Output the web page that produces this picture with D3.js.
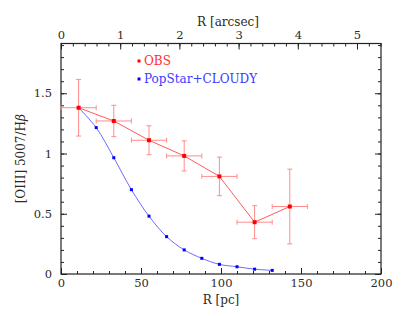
<!DOCTYPE html>
<html>
<head>
  <script src="https://d3js.org/d3.v7.min.js"></script>
  <style>
    body { margin: 0; background: #fff; }
    svg { display: block; }
    text { font-family: "DejaVu Serif", serif; font-size: 12px; fill: #2a2a2a; }
    .axis text { font-family: "DejaVu Serif", serif; font-size: 11.5px; fill: #2a2a2a; }
    .axis line { stroke: #222; stroke-width: 1; }
  </style>
</head>
<body>
  <svg width="409" height="316"></svg>
  <script>
    // observed ratio
    var obsR = [11, 33, 55, 77, 99, 121, 143];
    var obsRatio = [1.38, 1.27, 1.11, 0.98, 0.81, 0.43, 0.56];
    var obsRErr = [11, 11, 11, 11, 11, 11, 11];
    var obsRatioErr = [0.235, 0.13, 0.12, 0.125, 0.16, 0.137, 0.31];

    // model
    var modR = [11, 22, 33, 44, 55, 66, 77, 88, 99, 110, 121, 132];
    var modRatio = [1.38, 1.215, 0.965, 0.70, 0.48, 0.31, 0.20, 0.13, 0.08, 0.06, 0.04, 0.03];

    var xTicks = [0, 50, 100, 150, 200];
    var yTicks = [0, 0.5, 1, 1.5];
    var arcTicks = [0, 1, 2, 3, 4, 5];
    var pcPerArcsec = 37;

    var pLeft = 61, pRight = 381, pTop = 43.5, pBottom = 274;
    var svg = d3.select("svg");

    var x = d3.scaleLinear().domain([0, 200]).range([pLeft, pRight]);
    var y = d3.scaleLinear().domain([0, 1.913]).range([pBottom, pTop]);
    var xa = d3.scaleLinear().domain([0, 200 / pcPerArcsec]).range([pLeft, pRight]);

    function minor(scale, step) {
      var d = scale.domain(), out = [];
      for (var v = 0; v <= d[1] + 1e-9; v += step) out.push(+v.toFixed(3));
      return out;
    }

    // axes, ticks inward
    svg.append("g").attr("class", "axis").attr("transform", "translate(0," + pBottom + ")")
      .call(d3.axisBottom(x).tickValues(xTicks).tickSize(-6).tickSizeOuter(0).tickPadding(5).tickFormat(d3.format("d")));
    svg.append("g").attr("class", "axis").attr("transform", "translate(0," + pBottom + ")")
      .call(d3.axisBottom(x).tickValues(minor(x, 10)).tickSize(-3).tickSizeOuter(0).tickFormat(""));

    svg.append("g").attr("class", "axis").attr("transform", "translate(" + pLeft + ",0)")
      .call(d3.axisLeft(y).tickValues(yTicks).tickSize(-6).tickSizeOuter(0).tickPadding(9).tickFormat(function(d) { return d; }));
    svg.append("g").attr("class", "axis").attr("transform", "translate(" + pLeft + ",0)")
      .call(d3.axisLeft(y).tickValues(minor(y, 0.1)).tickSize(-3).tickSizeOuter(0).tickFormat(""));

    svg.append("g").attr("class", "axis").attr("transform", "translate(" + pRight + ",0)")
      .call(d3.axisRight(y).tickValues(yTicks).tickSize(-6).tickSizeOuter(0).tickFormat(""));
    svg.append("g").attr("class", "axis").attr("transform", "translate(" + pRight + ",0)")
      .call(d3.axisRight(y).tickValues(minor(y, 0.1)).tickSize(-3).tickSizeOuter(0).tickFormat(""));

    svg.append("g").attr("class", "axis").attr("transform", "translate(0," + pTop + ")")
      .call(d3.axisTop(xa).tickValues(arcTicks).tickSize(-6).tickSizeOuter(0).tickPadding(5).tickFormat(d3.format("d")));
    svg.append("g").attr("class", "axis").attr("transform", "translate(0," + pTop + ")")
      .call(d3.axisTop(xa).tickValues(minor(xa, 0.2)).tickSize(-3).tickSizeOuter(0).tickFormat(""));

    svg.selectAll(".axis .domain").remove();

    svg.append("rect").attr("x", pLeft).attr("y", pTop)
      .attr("width", pRight - pLeft).attr("height", pBottom - pTop)
      .attr("fill", "none").attr("stroke", "#222").attr("stroke-width", 1.2);

    // labels
    svg.append("text").attr("x", 221).attr("y", 304).attr("text-anchor", "middle").text("R [pc]");
    svg.append("text").attr("x", 228).attr("y", 26).attr("text-anchor", "middle").text("R [arcsec]");
    var yl = svg.append("text").attr("transform", "translate(25," + ((pTop + pBottom) / 2) + ") rotate(-90)")
      .attr("text-anchor", "middle");
    yl.append("tspan").text("[OIII] 5007/H");
    yl.append("tspan").style("font-style", "italic").text("\u03B2");

    // model curve
    var model = modR.map(function(r, i) { return [r, modRatio[i]]; });
    svg.append("path").datum(model)
      .attr("fill", "none").attr("stroke", "#6c6cff").attr("stroke-width", 1)
      .attr("d", d3.line().x(function(d) { return x(d[0]); }).y(function(d) { return y(d[1]); }).curve(d3.curveCatmullRom));
    svg.selectAll(".mod").data(model).enter().append("rect")
      .attr("x", function(d) { return x(d[0]) - 1.5; })
      .attr("y", function(d) { return y(d[1]) - 1.5; })
      .attr("width", 3).attr("height", 3).attr("fill", "#0000ff");

    // observations
    var obs = obsR.map(function(r, i) { return { r: r, v: obsRatio[i], er: obsRErr[i], ev: obsRatioErr[i] }; });
    var errCol = "#ff8c8c", cap = 2.5;
    var eb = svg.append("g").attr("stroke", errCol).attr("stroke-width", 1);
    obs.forEach(function(d) {
      eb.append("line").attr("x1", x(d.r - d.er)).attr("x2", x(d.r + d.er)).attr("y1", y(d.v)).attr("y2", y(d.v));
      eb.append("line").attr("x1", x(d.r - d.er)).attr("x2", x(d.r - d.er)).attr("y1", y(d.v) - cap).attr("y2", y(d.v) + cap);
      eb.append("line").attr("x1", x(d.r + d.er)).attr("x2", x(d.r + d.er)).attr("y1", y(d.v) - cap).attr("y2", y(d.v) + cap);
      eb.append("line").attr("x1", x(d.r)).attr("x2", x(d.r)).attr("y1", y(d.v - d.ev)).attr("y2", y(d.v + d.ev));
      eb.append("line").attr("x1", x(d.r) - cap).attr("x2", x(d.r) + cap).attr("y1", y(d.v + d.ev)).attr("y2", y(d.v + d.ev));
      eb.append("line").attr("x1", x(d.r) - cap).attr("x2", x(d.r) + cap).attr("y1", y(d.v - d.ev)).attr("y2", y(d.v - d.ev));
    });
    svg.append("path").datum(obs)
      .attr("fill", "none").attr("stroke", "#ff5a5a").attr("stroke-width", 1)
      .attr("d", d3.line().x(function(d) { return x(d.r); }).y(function(d) { return y(d.v); }));
    svg.selectAll(".obs").data(obs).enter().append("rect")
      .attr("x", function(d) { return x(d.r) - 2; })
      .attr("y", function(d) { return y(d.v) - 2; })
      .attr("width", 4).attr("height", 4).attr("fill", "#ff0000");

    // legend
    var legend = [["OBS", "#ff0000", "#ff3030"], ["PopStar+CLOUDY", "#0000ff", "#3a3aff"]];
    legend.forEach(function(l, i) {
      var ly = 61 + i * 18;
      svg.append("rect").attr("x", 137.5).attr("y", ly - 1.5).attr("width", 3).attr("height", 3).attr("fill", l[1]);
      svg.append("text").attr("x", 144).attr("y", ly + 4.3).style("fill", l[2]).text(l[0]);
    });
  </script>
</body>
</html>
